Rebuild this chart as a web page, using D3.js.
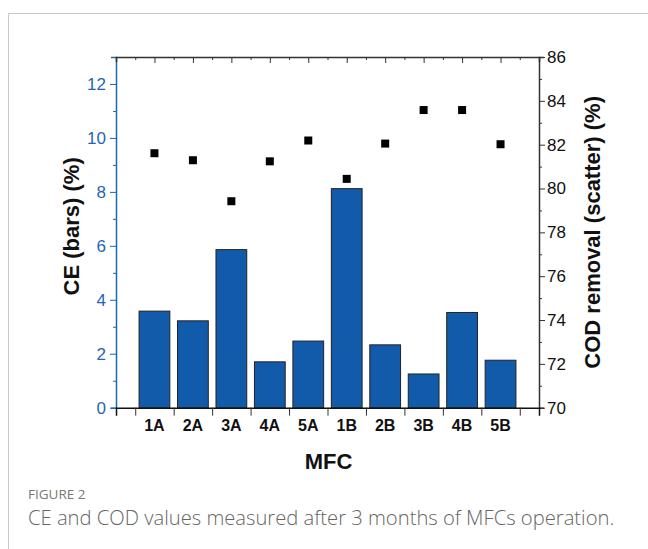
<!DOCTYPE html>
<html>
<head>
<meta charset="utf-8">
<script src="https://cdn.jsdelivr.net/npm/d3@7"></script>
<style>
  body { margin: 0; background: #fff; }
  svg { display: block; }
</style>
</head>
<body>
<script>
// MFC categories and measured values
const categories = ["1A", "2A", "3A", "4A", "5A", "1B", "2B", "3B", "4B", "5B"];
const ceValues = [3.58, 3.22, 5.86, 1.70, 2.47, 8.12, 2.33, 1.25, 3.53, 1.76];
const codValues = [81.61, 81.29, 79.42, 81.24, 82.19, 80.44, 82.05, 83.58, 83.58, 82.02];
const ceTicks = [0, 2, 4, 6, 8, 10, 12];
const codTicks = [70, 72, 74, 76, 78, 80, 82, 84, 86];

const width = 648, height = 549;
const plotLeft = 116, plotRight = 539, plotTop = 57, plotBottom = 407.7;
const blue = "#1f65b8";

const svg = d3.select("body").append("svg")
  .attr("width", width)
  .attr("height", height);

// card frame
svg.append("path")
  .attr("d", `M8.5,${height} V13.5 H${width}`)
  .attr("fill", "none")
  .attr("stroke", "#c8c8c8")
  .attr("stroke-width", 1);

const x = d3.scaleLinear().domain([0, 11]).range([plotLeft, plotRight]);
const yL = d3.scaleLinear().domain([0, 13]).range([plotBottom, plotTop]);
const yR = d3.scaleLinear().domain([70, 86]).range([plotBottom, plotTop]);

// bars
const barW = x(0.8) - x(0);
svg.append("g")
  .selectAll("rect")
  .data(ceValues)
  .join("rect")
  .attr("x", (d, i) => x(i + 1) - barW / 2)
  .attr("y", d => yL(d))
  .attr("width", barW)
  .attr("height", d => yL(0) - yL(d))
  .attr("fill", "#125bab")
  .attr("stroke", "#222")
  .attr("stroke-width", 1);

// scatter
svg.append("g")
  .selectAll("rect")
  .data(codValues)
  .join("rect")
  .attr("x", (d, i) => x(i + 1) - 4)
  .attr("y", d => yR(d) - 4)
  .attr("width", 8)
  .attr("height", 8)
  .attr("fill", "#000");

const tickFont = "'Liberation Sans', Arial, sans-serif";

// left axis (blue)
const leftAxis = svg.append("g")
  .attr("transform", `translate(${plotLeft},0)`)
  .call(d3.axisLeft(yL).tickValues(d3.range(0, 14, 1)).tickSize(5).tickFormat(d => ceTicks.includes(d) ? d : ""));
leftAxis.select(".domain").attr("stroke", blue).attr("stroke-width", 1.5);
leftAxis.selectAll(".tick line").attr("stroke", blue)
  .attr("x2", d => ceTicks.includes(d) ? -6 : -3);
leftAxis.selectAll(".tick text").attr("fill", blue).attr("x", -10)
  .style("font-family", tickFont).style("font-size", "17px");

// right axis
const rightAxis = svg.append("g")
  .attr("transform", `translate(${plotRight},0)`)
  .call(d3.axisRight(yR).tickValues(d3.range(70, 87, 1)).tickSize(5).tickFormat(d => codTicks.includes(d) ? d : ""));
rightAxis.select(".domain").attr("stroke", "#333").attr("stroke-width", 1.5);
rightAxis.selectAll(".tick line").attr("stroke", "#333")
  .attr("x2", d => codTicks.includes(d) ? 6 : 3);
rightAxis.selectAll(".tick text").attr("fill", "#111").attr("x", 8)
  .style("font-family", tickFont).style("font-size", "17px");

// top axis: inward ticks at centers and boundaries
const topAxis = svg.append("g")
  .attr("transform", `translate(0,${plotTop})`)
  .call(d3.axisBottom(x).tickValues(d3.range(0.5, 11, 0.5)).tickSize(5).tickFormat(""));
topAxis.select(".domain").attr("stroke", "#333").attr("stroke-width", 1.5);
topAxis.selectAll(".tick line").attr("stroke", "#333")
  .attr("y2", d => Number.isInteger(d) ? 6 : 3);

// bottom axis: outward ticks at category boundaries
const bottomAxis = svg.append("g")
  .attr("transform", `translate(0,${plotBottom})`)
  .call(d3.axisBottom(x).tickValues(d3.range(0.5, 11, 1)).tickSize(8).tickFormat(""));
bottomAxis.select(".domain").attr("stroke", "#111").attr("stroke-width", 1.5);
bottomAxis.selectAll(".tick line").attr("stroke", "#333");

// category labels
svg.append("g")
  .selectAll("text")
  .data(categories)
  .join("text")
  .attr("x", (d, i) => x(i + 1))
  .attr("y", plotBottom + 23)
  .attr("text-anchor", "middle")
  .style("font-family", tickFont)
  .attr("font-weight", "bold")
  .attr("font-size", 16)
  .attr("fill", "#111")
  .text(d => d);

// axis titles
svg.append("text")
  .attr("x", (plotLeft + plotRight) / 2 + 1)
  .attr("y", 469)
  .attr("text-anchor", "middle")
  .style("font-family", tickFont)
  .attr("font-weight", "bold")
  .attr("font-size", 22)
  .attr("fill", "#111")
  .text("MFC");

svg.append("text")
  .attr("transform", `translate(79,${(plotTop + plotBottom) / 2 - 6}) rotate(-90)`)
  .attr("text-anchor", "middle")
  .style("font-family", tickFont)
  .attr("font-weight", "bold")
  .attr("font-size", 22)
  .attr("fill", "#111")
  .text("CE (bars) (%)");

svg.append("text")
  .attr("transform", `translate(600,${(plotTop + plotBottom) / 2}) rotate(-90)`)
  .attr("text-anchor", "middle")
  .style("font-family", tickFont)
  .attr("font-weight", "bold")
  .attr("font-size", 22)
  .attr("fill", "#111")
  .text("COD removal (scatter) (%)");

// caption
svg.append("text")
  .attr("x", 28)
  .attr("y", 499)
  .style("font-family", "'Open Sans', sans-serif")
  .attr("font-size", 13.5)
  .attr("fill", "#777")
  .text("FIGURE 2");

svg.append("text")
  .attr("x", 28)
  .attr("y", 525)
  .style("font-family", "'Open Sans', sans-serif")
  .attr("font-size", 20.2)
  .attr("font-weight", 300)
  .attr("fill", "#666")
  .text("CE and COD values measured after 3 months of MFCs operation.");
</script>
</body>
</html>
